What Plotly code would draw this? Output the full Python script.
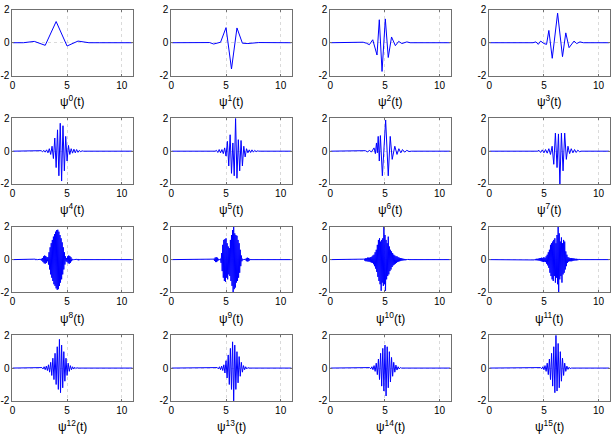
import numpy as np
import plotly.graph_objects as go

# ---------------- data ----------------
labels = ["ψ<sup>%d</sup>(t)" % k for k in range(16)]

# coarse panels: explicit sample times and values
t0 = [0, 1, 2, 3, 4, 5, 6, 7, 8, 9, 10, 11]
y0 = [0, 0, 0.08, -0.16, 1.29, -0.2, 0.1, 0, 0, 0, 0, 0]

t1 = [0, 2.5, 3.0, 3.5, 3.87, 4.5, 5.0, 5.5, 6.0, 6.5, 7.0, 7.5, 8.0, 11]
y1 = [0, 0, 0.03, 0.01, -0.08, 0.03, 0.92, -1.6, 0.9, -0.03, -0.05, 0, 0.01, 0]

t2 = [0, 2.5, 3.0, 3.3, 3.57, 3.88, 4.27, 4.48, 4.73, 5.03, 5.3, 5.6, 5.95, 6.25, 6.55, 7.0, 7.3, 11]
y2 = [0, 0, 0.03, -0.03, -0.12, 0.18, -0.75, 1.4, -1.75, 1.45, -0.9, 0.35, -0.18, 0.08, -0.05, 0.05, 0, 0]

t3 = [0, 4.0, 4.27, 4.48, 4.7, 5.0, 5.24, 5.45, 5.76, 6.25, 6.7, 7.0, 7.3, 7.75, 8.0, 8.3, 8.6, 11]
y3 = [0, 0, 0.05, -0.1, 0.1, -0.05, -0.1, 0.75, -0.95, 1.8, -0.85, 0.6, -0.3, 0.1, -0.05, 0.05, 0, 0]

t6 = [0, 3.0, 3.2, 3.4, 3.6, 3.75, 3.9, 4.0, 4.12, 4.22, 4.3, 4.38, 4.48, 4.58, 4.76, 5.06, 5.3, 5.48,
      5.66, 5.9, 6.1, 6.27, 6.45, 6.6, 6.8, 7.0, 7.2, 7.4, 11]
y6 = [0, 0, 0.03, -0.04, 0.05, -0.06, 0.1, 0.2, -0.15, 0.5, -0.1, 0.9, -0.6, 0.95, -1.5, 1.9, -1.5, 0.9,
      -0.5, 0.3, -0.2, 0.15, -0.1, 0.1, -0.06, 0.05, -0.02, 0, 0]

t7 = [0, 4.4, 4.55, 4.7, 4.85, 5.0, 5.15, 5.3, 5.45, 5.6, 5.75, 5.9, 6.05, 6.2, 6.33, 6.46, 6.6, 6.75,
      6.9, 7.05, 7.2, 7.35, 7.5, 7.65, 7.8, 7.95, 8.1, 8.25, 8.4, 11]
y7 = [0, 0, 0.05, -0.08, 0.08, -0.1, 0.1, -0.12, 0.15, -0.2, 0.3, -0.8, 1.1, -1.0, 1.05, -2.0, 1.1, -1.2,
      1.1, -0.5, 0.3, -0.15, 0.15, -0.1, 0.1, -0.08, 0.06, -0.03, 0, 0]

# finer panels: first sample time, sample spacing, values
s4, d4 = 2.5, 0.125
v4 = [0, 0.03, -0.03, 0.05, -0.06, 0.08, -0.1, 0.15, -0.2, 0.3, -0.45, 0.8, -1.0, 1.3, -1.5, 1.7,
      -1.82, 1.55, -1.2, 0.9, -0.6, 0.35, -0.2, 0.15, -0.12, 0.12, -0.1, 0.1, -0.07, 0.05, -0.03, 0.02, 0]

s5, d5 = 4.0, 0.125
v5 = [0, 0.05, -0.08, 0.1, -0.1, 0.1, -0.15, 0.2, -0.3, 0.6, -0.9, 1.0, -1.35, 0.5, -1.5, 2.0,
      -1.65, 0.7, -1.2, 0.65, -0.9, 0.3, -0.35, 0.15, -0.1, 0.08, -0.08, 0.08, -0.06, 0.05, -0.03, 0.02, 0]

s8, d8 = 2.0, 0.05
v8 = [0, 0, 0.03, -0.03, 0.02, -0.01, 0, 0, 0, 0, 0, 0.02, -0.03, 0.05, -0.07, 0.1, -0.15, 0.2, -0.22,
      0.25, -0.25, 0.22, -0.2, 0.15, -0.1, 0.15, -0.3, 0.45, -0.6, 0.75, -0.9, 1.0, -1.1, 1.2, -1.3,
      1.4, -1.5, 1.55, -1.6, 1.7, -1.75, 1.8, -1.84, 1.82, -1.8, 1.7, -1.6, 1.5, -1.4, 1.3, -1.2, 1.05,
      -0.9, 0.75, -0.6, 0.45, -0.3, 0.2, -0.1, 0.1, -0.15, 0.2, -0.22, 0.25, -0.25, 0.22, -0.2, 0.15,
      -0.1, 0.05, -0.03, 0.02, 0, 0, 0, 0, 0, 0, 0.02, -0.03, 0.04, -0.04, 0.03, -0.02, 0]

s9, d9 = 3.8, 0.05
v9 = [0, 0.03, 0.05, -0.08, 0.12, -0.15, 0.15, -0.15, 0.12, -0.08, 0.05, -0.02, 0, 0.02, 0.05, -0.2,
      0.4, -0.7, 0.9, -1.1, 1.2, -1.3, 1.25, -1.35, 1.3, -1.1, 1.0, -1.2, 0.8, -0.9, 0.7, -1.0, 1.2,
      -1.3, 1.5, -1.6, 1.8, -2.0, 2.0, -1.8, 1.6, -1.7, 1.5, -1.4, 1.45, -1.3, 1.2, -1.1, 1.0, -0.8,
      0.6, -0.4, 0.25, -0.1, 0.05, 0, 0, 0, 0, 0.02, -0.04, 0.08, -0.1, 0.12, -0.12, 0.1, -0.08, 0.05, 0]

s10, d10 = 3.0, 0.05
v10 = [0, 0.03, 0.05, -0.06, 0.08, -0.1, 0.08, -0.1, 0.12, -0.12, 0.12, -0.12, 0.12, -0.15, 0.15,
       -0.18, 0.18, -0.2, 0.25, -0.28, 0.3, -0.4, 0.45, -0.55, 0.6, -0.75, 0.9, -1.05, 1.2, -1.3, 1.3,
       -1.5, 1.1, -1.9, 1.2, -1.4, 1.3, -1.6, 2.0, -1.5, 1.5, -1.9, 1.2, -1.2, 1.0, -1.0, 1.4, -0.9,
       0.8, -0.7, 0.6, -0.6, 0.5, -0.45, 0.4, -0.35, 0.3, -0.3, 0.25, -0.25, 0.2, -0.2, 0.2, -0.15,
       0.15, -0.12, 0.12, -0.1, 0.1, -0.08, 0.08, -0.06, 0.06, -0.05, 0.05, -0.04, 0.04, -0.04, 0.03,
       -0.03, 0.03, -0.02, 0.02, -0.01, 0]

s11, d11 = 4.0, 0.05
v11 = [0, 0.01, 0.02, -0.02, 0.03, -0.04, 0.05, -0.04, 0.05, -0.05, 0.06, -0.06, 0.08, -0.08, 0.1,
       -0.1, 0.12, -0.12, 0.1, -0.15, 0.15, -0.12, 0.1, -0.15, 0.2, -0.25, 0.3, -0.35, 0.45, -0.5, 0.6,
       -0.8, 0.9, -1.0, 1.0, -1.2, 1.1, -1.3, 1.2, -1.0, 1.3, -1.4, 1.0, -1.1, 1.5, -1.5, 2.0, -2.0,
       1.6, -1.2, 1.1, -1.0, 1.35, -1.4, 1.0, -0.9, 1.2, -0.8, 1.1, -0.6, 0.5, -0.4, 0.3, -0.2, 0.15,
       -0.12, 0.12, -0.1, 0.1, -0.1, 0.1, -0.1, 0.08, -0.08, 0.07, -0.06, 0.06, -0.05, 0.05, -0.05,
       0.05, -0.04, 0.04, -0.03, 0.03, -0.02, 0]

s12, d12 = 2.6, 0.1
v12 = [0, 0.03, -0.05, 0.08, -0.1, 0.12, -0.15, 0.2, -0.25, 0.35, -0.45, 0.6, -0.7, 0.9, -1.0, 1.3,
       -1.3, 1.75, -1.5, 1.4, -1.2, 1.0, -0.8, 0.6, -0.45, 0.3, -0.2, 0.15, -0.1, 0.08, -0.06, 0.05,
       -0.03, 0.02, 0]

s13, d13 = 4.1, 0.1
v13 = [0, 0.03, -0.05, 0.08, -0.1, 0.12, -0.15, 0.2, -0.3, 0.45, -0.6, 0.8, -1.0, 1.2, -1.3, 1.6,
       -2.0, 1.4, -1.3, 1.0, -0.9, 0.7, -0.5, 0.35, -0.25, 0.15, -0.1, 0.08, -0.05, 0.03, 0]

s14, d14 = 3.5, 0.1
v14 = [0, 0.03, -0.05, 0.08, -0.1, 0.15, -0.2, 0.3, -0.4, 0.55, -0.7, 0.9, -1.1, 1.2, -1.4, 1.4,
       -1.7, 1.3, -1.2, 1.0, -0.85, 0.65, -0.5, 0.35, -0.25, 0.18, -0.12, 0.08, -0.05, 0.03, 0]

s15, d15 = 4.6, 0.1
v15 = [0, 0.03, -0.05, 0.08, -0.1, 0.15, -0.2, 0.3, -0.4, 0.55, -0.7, 0.9, -1.1, 1.3, -1.5, 2.0,
       -1.4, 1.5, -1.2, 1.0, -0.8, 0.6, -0.45, 0.3, -0.2, 0.12, -0.08, 0.05, -0.03, 0]

x_range = [0, 11]
y_range = [-2, 2]
x_ticks = [0, 5, 10]
y_ticks = [-2, 0, 2]
y_tick_text = ["-2", "0", "2"]


def grid(start, step, vals):
    t = [0.0] + list(start + step * np.arange(len(vals))) + [11.0]
    v = [0.0] + list(vals) + [0.0]
    return t, v


series = [
    (t0, y0), (t1, y1), (t2, y2), (t3, y3),
    grid(s4, d4, v4), grid(s5, d5, v5), (t6, y6), (t7, y7),
    grid(s8, d8, v8), grid(s9, d9, v9), grid(s10, d10, v10), grid(s11, d11, v11),
    grid(s12, d12, v12), grid(s13, d13, v13), grid(s14, d14, v14), grid(s15, d15, v15),
]

# ---------------- layout ----------------
W, H = 611, 439
col_left = [9.5, 169.5, 329.5, 489.5]
pw = 121
row_top = [4, 115.5, 227, 338.5]
ph = 67.5
FONT = "Liberation Sans, Arial, sans-serif"

fig = go.Figure()
annotations = []
for k, (tx, ty) in enumerate(series):
    r, c = divmod(k, 4)
    sfx = "" if k == 0 else str(k + 1)
    fig.add_trace(go.Scatter(x=tx, y=ty, mode="lines",
                             line=dict(color="#0000ff", width=1),
                             xaxis="x" + sfx, yaxis="y" + sfx,
                             showlegend=False, hoverinfo="skip"))
    l = col_left[c]
    top = row_top[r]
    common = dict(showline=True, linecolor="#707070", linewidth=1, mirror="ticks",
                  ticks="inside", ticklen=2, tickcolor="#707070",
                  showgrid=True, gridcolor="#dadada", griddash="dot", gridwidth=1,
                  zeroline=False, tickfont=dict(family=FONT, size=10, color="#000"),
                  fixedrange=True)
    fig.update_layout(**{
        "xaxis" + sfx: dict(domain=[l / W, (l + pw) / W], anchor="y" + sfx,
                            range=x_range, tickvals=x_ticks, **common),
        "yaxis" + sfx: dict(domain=[1 - (top + ph) / H, 1 - top / H], anchor="x" + sfx,
                            range=y_range, tickvals=y_ticks, ticktext=y_tick_text, **common),
    })
    annotations.append(dict(text=labels[k], xref="paper", yref="paper",
                            x=(l + pw / 2) / W, y=1 - (top + ph + 26) / H,
                            xanchor="center", yanchor="middle", showarrow=False,
                            font=dict(family=FONT, size=12, color="#000")))

fig.update_layout(width=W, height=H, margin=dict(l=0, r=0, t=0, b=0),
                  paper_bgcolor="white", plot_bgcolor="white",
                  annotations=annotations)
fig.write_html("out.html", config={"displayModeBar": False},
               post_script="document.body.style.margin='0';document.body.style.overflow='hidden';")
